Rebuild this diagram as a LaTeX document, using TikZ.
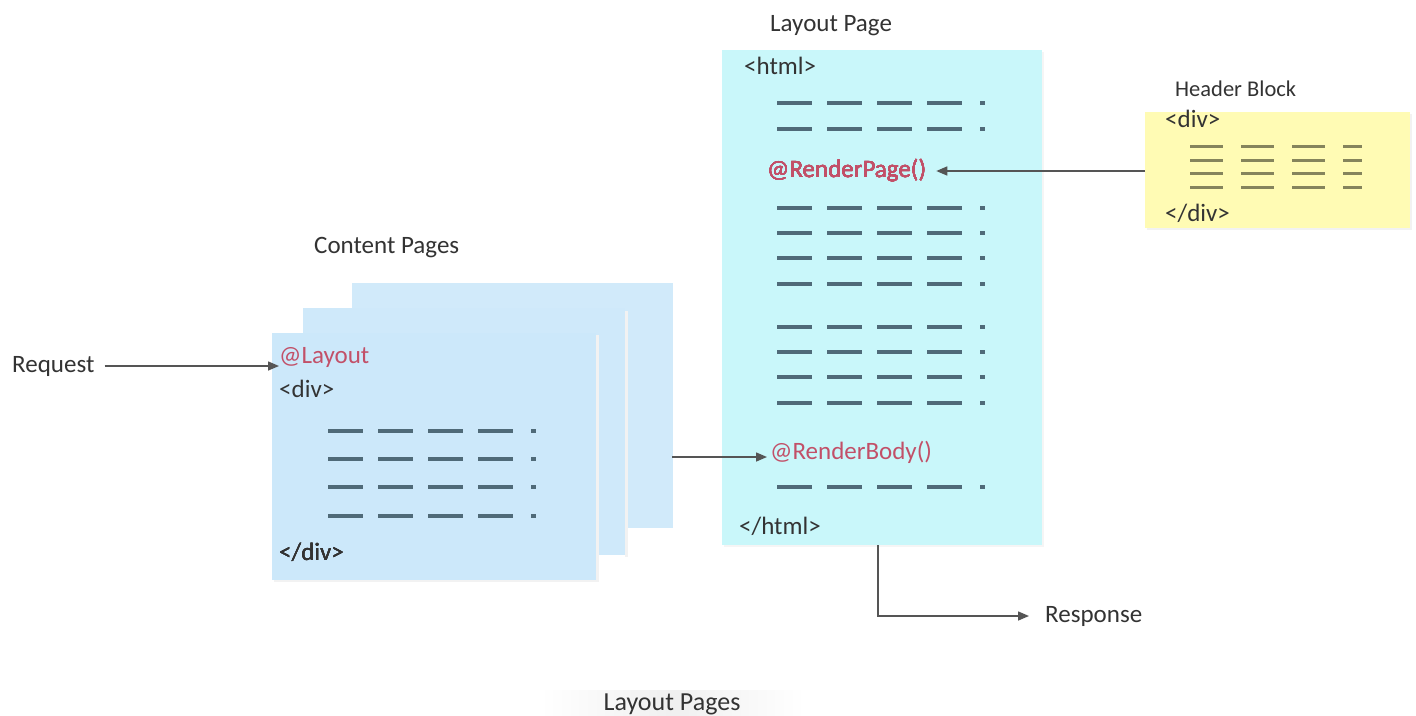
\documentclass[tikz,border=0pt]{standalone}
\usepackage{fontspec}
\setmainfont{Carlito}
\usetikzlibrary{arrows.meta}
\definecolor{sheetblue}{HTML}{CCE8FA}
\definecolor{pagecyan}{HTML}{C9F7FA}
\definecolor{noteyellow}{HTML}{FFFBB4}
\definecolor{razor}{HTML}{C25068}
\definecolor{ink}{HTML}{333333}
\definecolor{dashblue}{HTML}{4F6A78}
\definecolor{dasholive}{HTML}{85845C}
\definecolor{wire}{HTML}{555555}
\tikzset{
  lbl/.style={font=\fontsize{25}{28}\selectfont, text=ink, inner sep=0pt, anchor=west},
  code/.style={font=\fontsize{25}{28}\selectfont, text=ink, inner sep=0pt, anchor=west},
  rz/.style={code, text=razor},
  sheet/.style={fill=sheetblue, draw=none},
  flow/.style={draw=wire, line width=1.5pt, -{Triangle[length=11pt,width=9pt]}},
  bar/.style={line width=3.4pt, dashblue},
  obar/.style={line width=3pt, dasholive}
}
% one row of placeholder text: four bars and a dot
\newcommand{\barrow}[3]{%
  \foreach \k in {0,1,2,3}
    \draw[#3] ({#1+50*\k},#2) -- ({#1+50*\k+35},#2);
  \draw[#3] ({#1+203},#2) -- ({#1+208},#2);}
\begin{document}
\begin{tikzpicture}[x=1pt,y=-1pt]
\useasboundingbox (0,0) rectangle (1416,715);
\fill[white] (0,0) rectangle (1416,715);

% ---- content pages (stack of three sheets)
\fill[sheetblue!90!white] (352,283) rectangle (673,528);
\fill[black!5] (625,311) rectangle (628,557);
\fill[sheetblue!95!white] (303,308) rectangle (625,555);
\fill[black!5] (274,335) rectangle (599,582);
\node[sheet, minimum width=324pt, minimum height=247pt, anchor=north west, inner sep=0pt] (content) at (272,333) {};
\node[lbl] (contentlbl) at (314,248) {Content Pages};
\node[rz] (layoutref) at (279,357) {@Layout};
\node[code] (cdiv) at (279,389) {<div>};
\foreach \yy in {431,459,487,516} \barrow{328}{\yy}{bar}
\node[code] (cdivend) at (279,552) {</div>};

% ---- request
\node[lbl] (request) at (12,366) {Request};
\draw[flow] (request.east) ++(10,0) coordinate (rqs) -- (rqs -| layoutref.west);

% ---- layout page
\fill[black!4] (724,52) rectangle (1044,547);
\node[fill=pagecyan, minimum width=320pt, minimum height=495pt, anchor=north west, inner sep=0pt] (layout) at (722,50) {};
\node[lbl] (layoutlbl) at (770,26) {Layout Page};
\node[code] (html) at (744,66) {<html>};
\foreach \yy in {103,129,208,233,258,284,327,352,377,403,487} \barrow{777}{\yy}{bar}
\node[rz] (rpage) at (767,171) {@RenderPage()};
\node[rz] (rbody) at (770,452) {@RenderBody()};
\node[code] (htmlend) at (739,526) {</html>};

% ---- header block
\fill[black!5] (1147,114) rectangle (1412,230);
\node[fill=noteyellow, minimum width=265pt, minimum height=116pt, anchor=north west, inner sep=0pt] (header) at (1145,112) {};
\node[lbl, font=\fontsize{22.5}{26}\selectfont] (headerlbl) at (1175,89) {Header Block};
\node[code] (hdiv) at (1165,119) {<div>};
\foreach \yy in {146,160,173,187} {
  \foreach \k in {0,1,2} \draw[obar] ({1190+51*\k},\yy) -- ({1190+51*\k+33},\yy);
  \draw[obar] (1343,\yy) -- (1362,\yy);
}
\node[code] (hdivend) at (1165,213) {</div>};

% ---- connectors
\draw[flow] (header.west |- rpage) -- ([xshift=10pt]rpage.east);
\draw[flow] (content.east |- 0,457) ++(76,0) coordinate (cb) -- ([xshift=-3pt]rbody.west |- cb);
\coordinate (down) at (878,545);
\node[lbl] (response) at (1045,616) {Response};
\draw[flow] (down) |- ([xshift=-16pt]response.west);

% ---- caption
\shade[left color=white, right color=white, middle color=black!6] (540,690) rectangle (805,715);
\node[lbl, font=\fontsize{26}{29}\selectfont, anchor=center] (caption) at (672,704) {Layout Pages};
\end{tikzpicture}
\end{document}
